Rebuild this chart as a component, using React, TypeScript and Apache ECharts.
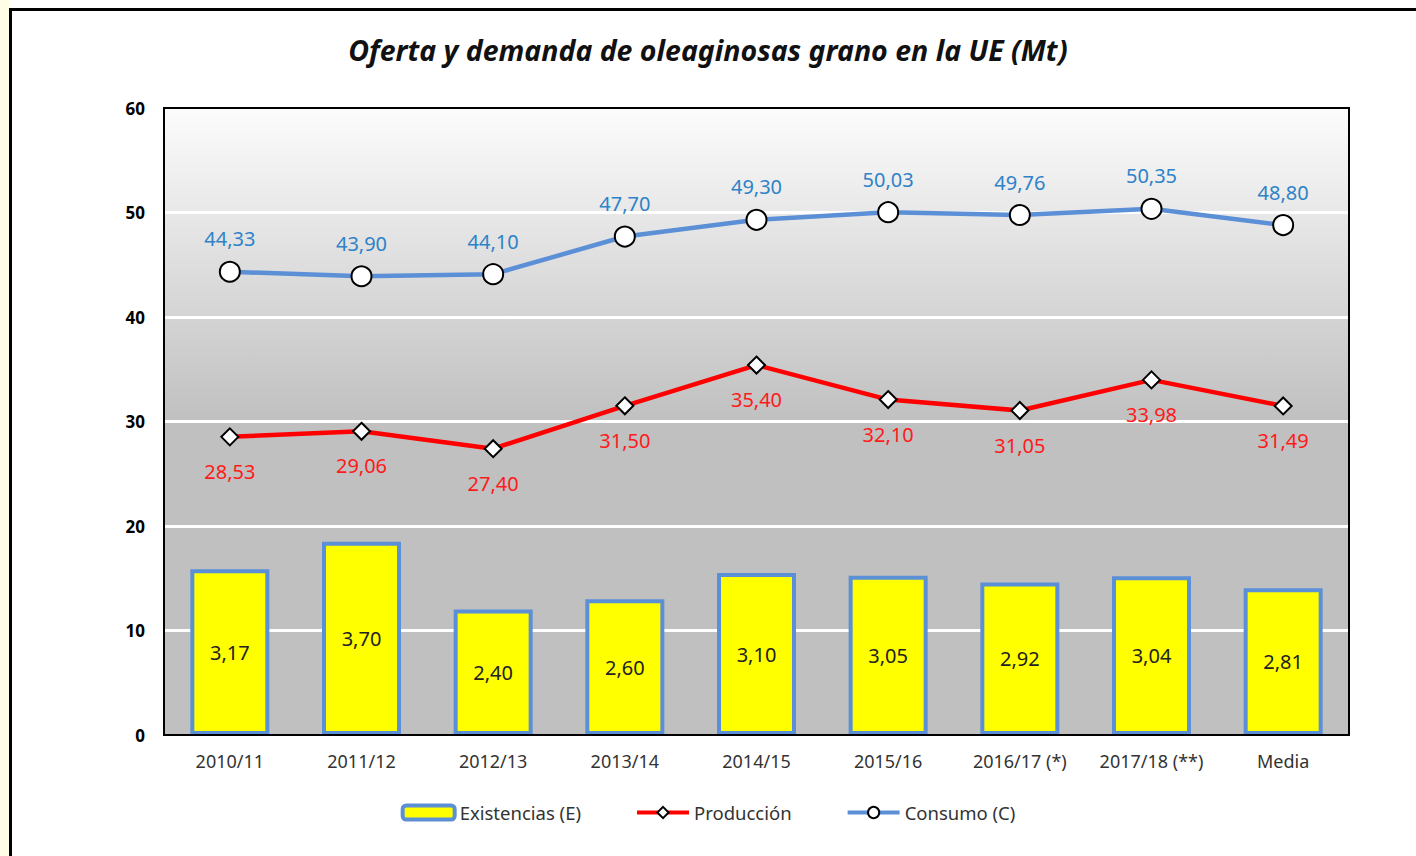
import React, { useEffect, useRef } from "react";
import * as echarts from "echarts";

const categories = ["2010/11", "2011/12", "2012/13", "2013/14", "2014/15", "2015/16", "2016/17 (*)", "2017/18 (**)", "Media"];
const existencias = [3.17, 3.7, 2.4, 2.6, 3.1, 3.05, 2.92, 3.04, 2.81];
const produccion = [28.53, 29.06, 27.4, 31.5, 35.4, 32.1, 31.05, 33.98, 31.49];
const consumo = [44.33, 43.9, 44.1, 47.7, 49.3, 50.03, 49.76, 50.35, 48.8];
const yTicks = [0, 60, 10];
const FONT = "'Noto Sans', 'Open Sans', sans-serif";

const fmt = (v: number) => v.toFixed(2).replace(".", ",");

export default function App() {
  const ref = useRef<HTMLDivElement>(null);
  useEffect(() => {
    if (!ref.current) return;
    const chart = echarts.init(ref.current, null, { renderer: "svg" });
    chart.setOption({
      animation: false,
      backgroundColor: "#ffffff",
      textStyle: { fontFamily: FONT },
      title: {
        text: "Oferta y demanda de oleaginosas grano en la UE (Mt)",
        left: "center",
        top: 30,
        textStyle: { fontSize: 28.5, fontStyle: "italic", fontWeight: "bold", color: "#111", fontFamily: FONT },
      },
      graphic: [
        { type: "rect", left: 0, top: 0, shape: { width: 9, height: 856 }, style: { fill: "#FFFEE4" }, z: 0 },
        { type: "rect", x: 10.5, y: 9.5, shape: { width: 1500, height: 1000 }, style: { fill: "none", stroke: "#000", lineWidth: 3 }, z: 0 },
        { type: "rect", x: 164, y: 108, shape: { width: 1185, height: 627 }, style: { fill: "none", stroke: "#000", lineWidth: 2 }, z: 100, silent: true },
      ],
      grid: {
        left: 164,
        top: 108,
        right: 67,
        bottom: 121,
        show: true,
        borderWidth: 0,
        backgroundColor: new echarts.graphic.LinearGradient(0, 0, 0, 1, [
          { offset: 0, color: "#fcfcfc" },
          { offset: 0.5, color: "#c0c0c0" },
          { offset: 1, color: "#c0c0c0" },
        ]),
      },
      legend: {
        top: 798,
        left: "center",
        itemWidth: 52,
        itemHeight: 14,
        itemGap: 54,
        textStyle: { fontSize: 18.5, color: "#333", fontFamily: FONT },
        data: [
          { name: "Existencias (E)", itemStyle: { color: "#FFFF00", borderColor: "#5B8FD6", borderWidth: 4 } },
          { name: "Producción", lineStyle: { color: "#FF0000", width: 4 }, itemStyle: { color: "#fff", borderColor: "#000", borderWidth: 2 } },
          { name: "Consumo (C)", lineStyle: { color: "#5B8FD6", width: 4 }, itemStyle: { color: "#fff", borderColor: "#000", borderWidth: 2 } },
        ],
      },
      xAxis: {
        type: "category",
        data: categories,
        axisLine: { lineStyle: { color: "#000", width: 2 } },
        axisTick: { show: false },
        axisLabel: { interval: 0, hideOverlap: false, fontSize: 18, color: "#333", margin: 17, fontFamily: FONT },
      },
      yAxis: [
        {
          type: "value",
          min: yTicks[0],
          max: yTicks[1],
          interval: yTicks[2],
          axisLine: { show: true, lineStyle: { color: "#000", width: 2 } },
          axisTick: { show: false },
          axisLabel: { fontSize: 17, fontWeight: "bold", color: "#000", margin: 19, fontFamily: FONT },
          splitLine: { show: true, showMinLine: false, showMaxLine: false, lineStyle: { color: "#ffffff", width: 3 } },
        },
        { type: "value", min: 0, max: 12, show: false, splitLine: { show: false } },
      ],
      series: [
        {
          name: "Existencias (E)",
          type: "bar",
          yAxisIndex: 1,
          data: existencias,
          barWidth: 79,
          itemStyle: { color: "#FFFF00", borderColor: "#5B8FD6", borderWidth: 4 },
          label: { show: true, position: "inside", fontSize: 20, color: "#222", formatter: (p: any) => fmt(p.value), fontFamily: FONT },
          z: 2,
        },
        {
          name: "Producción",
          type: "line",
          data: produccion,
          lineStyle: { color: "#FF0000", width: 4.5 },
          itemStyle: { color: "#ffffff", borderColor: "#000", borderWidth: 2 },
          symbol: "diamond",
          symbolSize: 17,
          label: { show: true, position: "bottom", distance: 15, fontSize: 20, color: "#FF1A1A", formatter: (p: any) => fmt(p.value), fontFamily: FONT },
          z: 3,
        },
        {
          name: "Consumo (C)",
          type: "line",
          data: consumo,
          lineStyle: { color: "#5B8FD6", width: 4.5 },
          itemStyle: { color: "#ffffff", borderColor: "#000", borderWidth: 2 },
          symbol: "circle",
          symbolSize: 20,
          label: { show: true, position: "top", distance: 12, fontSize: 20, color: "#2E82C8", formatter: (p: any) => fmt(p.value), fontFamily: FONT },
          z: 3,
        },
      ],
    });
    return () => chart.dispose();
  }, []);
  return <div ref={ref} style={{ position: "absolute", left: 0, top: 0, width: 1416, height: 856 }} />;
}
